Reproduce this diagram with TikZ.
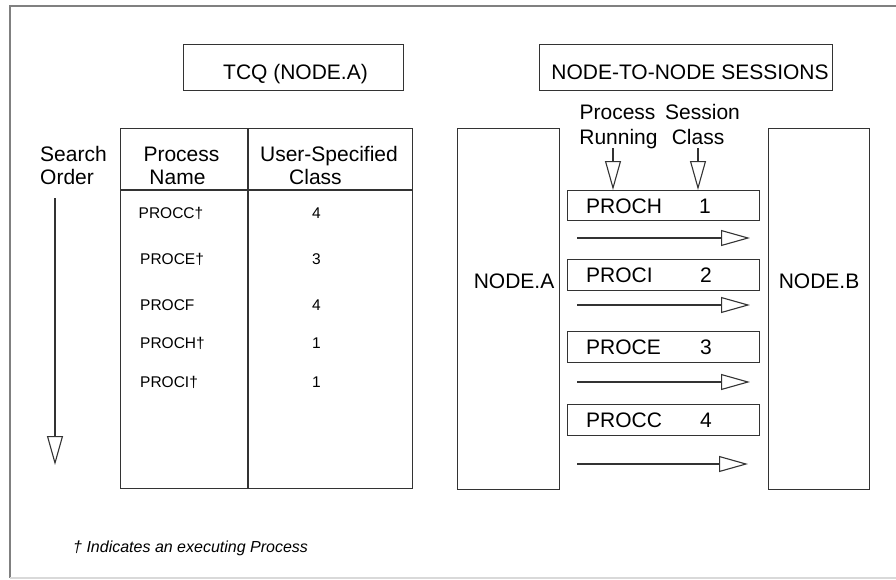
\documentclass[tikz,border=0pt]{standalone}
\usepackage{fontspec}
\setmainfont{Liberation Sans}
\usetikzlibrary{arrows.meta}
\begin{document}
\begin{tikzpicture}[x=1pt,y=-1pt,
  frame/.style={draw=black!50, line width=1.4pt},
  box/.style={draw=black!80, line width=1.1pt, inner sep=0pt, anchor=north west},
  big/.style={font=\fontsize{21}{24}\selectfont, inner sep=0pt, anchor=base},
  bigw/.style={big, anchor=base west},
  small/.style={font=\fontsize{15.5}{18}\selectfont, inner sep=0pt, anchor=base west},
  smallc/.style={small, anchor=base},
  opentip/.style={draw=black!80, line width=1.1pt,
    -{Triangle[open, length=29pt, width=16pt]}}]
\useasboundingbox (0,0) rectangle (896,579);

% outer frame
\draw[frame] (910,6) -- (10,6) -- (10,578);
\draw[draw=black!15, line width=1.2pt] (10,578) -- (910,578);

% titles
\node[box, minimum width=220pt, minimum height=46pt] (tcq) at (183,44) {};
\node[big] (tcqt) at (295.5,79) {TCQ (NODE.A)};
\node[box, minimum width=293pt, minimum height=46pt] (nn) at (539,44) {};
\node[big] (nnt) at (690,79) {NODE-TO-NODE SESSIONS};

% queue table
\node[box, minimum width=292pt, minimum height=360pt] (tab) at (120,128) {};
\coordinate (hl) at (120,190);
\coordinate (hr) at (412,190);
\coordinate (ct) at (248,128);
\coordinate (cb) at (248,488);
\draw[draw=black!80, line width=1.1pt] (hl) -- (hr);
\draw[draw=black!80, line width=1.1pt] (ct) -- (cb);

\node[big] (h1a) at (181.5,161) {Process};
\node[big] (h1b) at (177.5,184) {Name};
\node[big] (h2a) at (329,161) {User-Specified};
\node[big] (h2b) at (315.5,184) {Class};

\node[small] (r1) at (138.5,218) {PROCC†};
\node[small] (r2) at (140,264) {PROCE†};
\node[small] (r3) at (140,310) {PROCF};
\node[small] (r4) at (140,348) {PROCH†};
\node[small] (r5) at (140,387) {PROCI†};
\node[smallc] (c1) at (316.5,218) {4};
\node[smallc] (c2) at (316.5,264) {3};
\node[smallc] (c3) at (316.5,310) {4};
\node[smallc] (c4) at (316.5,348) {1};
\node[smallc] (c5) at (316.5,387) {1};

% search order
\node[bigw] (so1) at (40,161) {Search};
\node[bigw] (so2) at (40,184) {Order};
\coordinate (sa) at (55,198);
\coordinate (sb) at (55,465);
\draw[opentip] (sa) -- (sb);

% nodes and sessions
\node[box, minimum width=102pt, minimum height=361pt] (na) at (457,128) {};
\node[box, minimum width=101pt, minimum height=361pt] (nb) at (768,128) {};
\node[big] (nat) at (514,288) {NODE.A};
\node[big] (nbt) at (819,288) {NODE.B};

\node[big] (p1) at (617.5,119) {Process};
\node[big] (p2) at (702.5,119) {Session};
\node[big] (p3) at (618.5,144) {Running};
\node[big] (p4) at (698,144) {Class};

\node[box, minimum width=192pt, minimum height=30pt] (s1) at (567,190) {};
\node[box, minimum width=192pt, minimum height=31pt] (s2) at (567,259) {};
\node[box, minimum width=192pt, minimum height=31pt] (s3) at (567,331) {};
\node[box, minimum width=192pt, minimum height=31pt] (s4) at (567,404) {};

\node[bigw] (s1a) at (586,213) {PROCH};
\node[big]  (s1b) at (705,213) {1};
\node[bigw] (s2a) at (586,282) {PROCI};
\node[big]  (s2b) at (706,282) {2};
\node[bigw] (s3a) at (586,354) {PROCE};
\node[big]  (s3b) at (706,354) {3};
\node[bigw] (s4a) at (586,427) {PROCC};
\node[big]  (s4b) at (706,427) {4};

% pointers to the session box
\coordinate (ra) at (613,148);
\coordinate (ca) at (698,148);
\draw[opentip] (ra) -- (ra |- s1.north);
\draw[opentip] (ca) -- (ca |- s1.north);

% session flow arrows
\coordinate (f1a) at (577,238); \coordinate (f1b) at (750,238);
\coordinate (f2a) at (577,305); \coordinate (f2b) at (750,305);
\coordinate (f3a) at (577,382); \coordinate (f3b) at (750,382);
\coordinate (f4a) at (577,464); \coordinate (f4b) at (748,464);
\draw[opentip] (f1a) -- (f1b);
\draw[opentip] (f2a) -- (f2b);
\draw[opentip] (f3a) -- (f3b);
\draw[opentip] (f4a) -- (f4b);

% footnote
\node[font=\fontsize{16}{19}\selectfont\itshape, inner sep=0pt, anchor=base west]
  (fn) at (73,552) {† Indicates an executing Process};
\end{tikzpicture}
\end{document}
